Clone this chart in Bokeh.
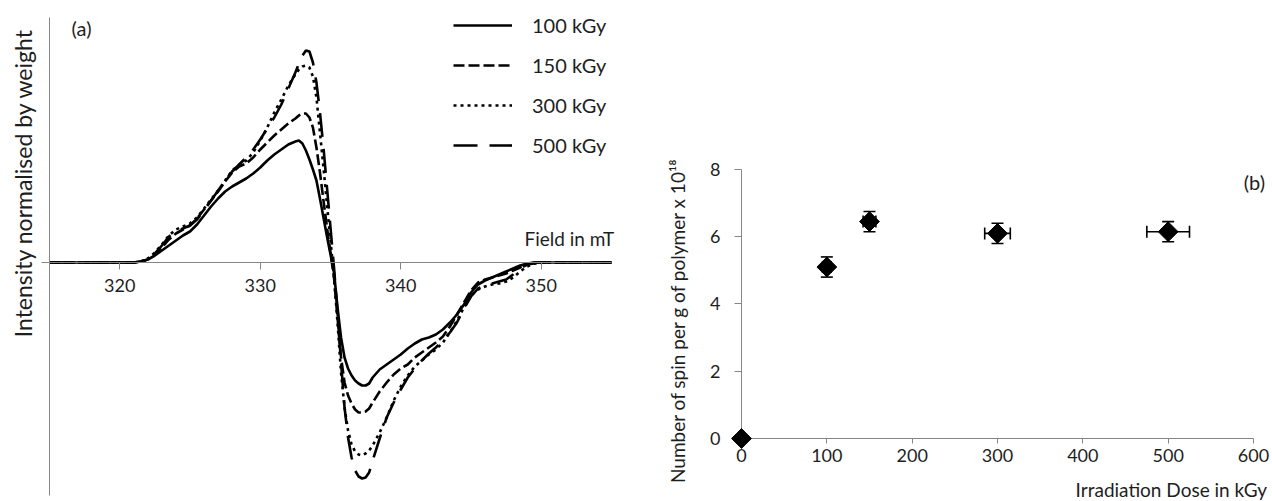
import numpy as np
from bokeh.plotting import figure
from bokeh.models import (Range1d, Label, Legend, LegendItem, FixedTicker, LinearAxis,
                          ColumnDataSource, Whisker, TeeHead)
from bokeh.embed import file_html
from bokeh.resources import INLINE

# ---------------- data: panel (a) EPR spectra ----------------
field = [315, 316, 317, 318, 319, 320, 321,
         321.5, 322, 322.5, 323, 323.5, 324, 324.5, 325, 325.5, 326, 326.5, 327, 327.5,
         328, 328.5, 329, 329.5, 330, 330.5, 331, 331.5, 332, 332.5,
         332.75, 333, 333.25, 333.5, 333.75, 334, 334.25, 334.5, 334.75, 335, 335.25,
         335.5, 335.75, 336, 336.25, 336.5, 336.75, 337, 337.25, 337.5, 337.75, 338,
         338.5, 339, 339.5, 340, 340.5, 341, 341.5, 342, 342.5, 343, 343.5, 344, 344.5,
         345, 345.5, 346, 346.5, 347, 347.5, 348, 348.5, 349, 349.5, 350,
         351, 352, 353, 354, 355]

i100 = [0, 0, 0, 0, 0, 0, 0,
        0.01, 0.03, 0.07, 0.12, 0.17, 0.22, 0.27, 0.31, 0.38, 0.47, 0.56, 0.64, 0.71,
        0.76, 0.80, 0.84, 0.89, 0.95, 1.02, 1.08, 1.13, 1.18, 1.21,
        1.22, 1.19, 1.12, 1.03, 0.93, 0.82, 0.64, 0.45, 0.26, 0.08, -0.10,
        -0.45, -0.75, -0.95, -1.06, -1.13, -1.18, -1.21, -1.23, -1.23, -1.21, -1.15,
        -1.07, -1.02, -0.97, -0.92, -0.86, -0.81, -0.77, -0.75, -0.72, -0.67, -0.60, -0.52, -0.42,
        -0.30, -0.22, -0.18, -0.15, -0.12, -0.09, -0.06, -0.03, -0.01, 0, 0,
        0, 0, 0, 0, 0]

i150 = [0, 0, 0, 0, 0, 0, 0,
        0.01, 0.03, 0.08, 0.15, 0.23, 0.29, 0.33, 0.37, 0.44, 0.53, 0.62, 0.71, 0.81,
        0.90, 0.96, 0.99, 1.05, 1.13, 1.20, 1.27, 1.33, 1.39, 1.44,
        1.47, 1.49, 1.49, 1.45, 1.35, 1.15, 0.90, 0.62, 0.35, 0.10, -0.15,
        -0.55, -0.95, -1.20, -1.33, -1.41, -1.47, -1.50, -1.50, -1.49, -1.46, -1.40,
        -1.29, -1.20, -1.12, -1.06, -1.02, -0.95, -0.90, -0.85, -0.80, -0.74, -0.64, -0.52, -0.40,
        -0.28, -0.20, -0.17, -0.15, -0.13, -0.11, -0.08, -0.05, -0.02, -0.01, 0,
        0, 0, 0, 0, 0]

i300 = [0, 0, 0, 0, 0, 0, 0,
        0.01, 0.04, 0.10, 0.18, 0.27, 0.33, 0.36, 0.39, 0.45, 0.54, 0.63, 0.72, 0.82,
        0.92, 0.98, 1.02, 1.10, 1.22, 1.35, 1.50, 1.63, 1.77, 1.88,
        1.93, 1.96, 1.97, 1.95, 1.86, 1.65, 1.30, 0.95, 0.58, 0.22, -0.15,
        -0.60, -1.10, -1.45, -1.68, -1.82, -1.89, -1.92, -1.93, -1.91, -1.88, -1.83,
        -1.70, -1.55, -1.38, -1.24, -1.13, -1.04, -0.98, -0.92, -0.87, -0.80, -0.70, -0.58, -0.45,
        -0.33, -0.27, -0.24, -0.22, -0.21, -0.19, -0.15, -0.09, -0.04, -0.01, 0,
        0, 0, 0, 0, 0]

i500 = [0, 0, 0, 0, 0, 0, 0,
        0.01, 0.03, 0.09, 0.17, 0.26, 0.31, 0.34, 0.37, 0.43, 0.52, 0.62, 0.72, 0.82,
        0.91, 0.98, 1.05, 1.13, 1.23, 1.34, 1.45, 1.58, 1.74, 1.90,
        1.99, 2.07, 2.12, 2.11, 2.00, 1.80, 1.50, 1.15, 0.75, 0.35, -0.05,
        -0.50, -1.00, -1.45, -1.75, -1.95, -2.08, -2.14, -2.16, -2.15, -2.10, -1.98,
        -1.76, -1.55, -1.40, -1.27, -1.15, -1.06, -0.98, -0.91, -0.85, -0.78, -0.70, -0.60, -0.46,
        -0.34, -0.26, -0.23, -0.21, -0.19, -0.17, -0.12, -0.06, -0.02, 0, 0,
        0, 0, 0, 0, 0]

series_labels = ["100 kGy", "150 kGy", "300 kGy", "500 kGy"]
field_ticks = [320, 330, 340, 350]

# ---------------- data: panel (b) spin count ----------------
dose = [0, 100, 150, 300, 500]
spins = [0, 5.1, 6.45, 6.1, 6.15]
dose_err = [0, 5, 7.5, 15, 25]
spin_err = [0, 0.3, 0.3, 0.3, 0.3]
dose_ticks = [0, 100, 200, 300, 400, 500, 600]
spin_ticks = [0, 2, 4, 6, 8]

FONT = "Lato"
TXT = "#1e1e1e"
AXC = "#868686"


def style_axis(ax, ticks, tick_out, standoff, size="18px", labels=True):
    ax.ticker = FixedTicker(ticks=ticks)
    ax.minor_tick_line_color = None
    ax.major_tick_out = tick_out
    ax.major_tick_in = 0
    ax.major_label_standoff = standoff
    ax.axis_line_color = AXC
    ax.axis_line_width = 1
    ax.major_tick_line_color = AXC
    ax.major_label_text_font = FONT
    ax.major_label_text_font_size = size
    ax.major_label_text_color = TXT
    if not labels:
        ax.major_label_overrides = {t: "" for t in ticks}


# one canvas, two coordinate systems: main ranges = panel (a), "b" ranges = panel (b)
p = figure(width=1270, height=500, output_backend="svg", toolbar_location=None,
           x_range=Range1d(311.5125, 401.904), y_range=Range1d(-2.38, 2.62),
           x_axis_location=None, y_axis_location=None,
           min_border_left=0, min_border_right=0, min_border_top=0, min_border_bottom=0)
p.extra_x_ranges = {"b": Range1d(-868.36, 619.92)}
p.extra_y_ranges = {"b": Range1d(-1.8439, 13.026)}
p.outline_line_color = None
p.grid.visible = False
p.background_fill_color = "white"
p.border_fill_color = "white"

# ---- panel (a) axes ----
ax_a = LinearAxis(fixed_location=0, bounds=(315, 355))
style_axis(ax_a, field_ticks, 7, 9)
p.add_layout(ax_a, "below")
ay_a = LinearAxis(fixed_location=315, bounds=(-2.33, 2.45))
style_axis(ay_a, [0], 8, 0, labels=False)
p.add_layout(ay_a, "left")

# ---- panel (a) spectra ----
src_a = ColumnDataSource(dict(f=field, a=i100, b=i150, c=i300, d=i500))
r1 = p.line("f", "a", source=src_a, line_color="black", line_width=2.6)
r2 = p.line("f", "b", source=src_a, line_color="black", line_width=2.6, line_dash="11 4")
r3 = p.line("f", "c", source=src_a, line_color="black", line_width=2.6, line_dash="3 4")
r4 = p.line("f", "d", source=src_a, line_color="black", line_width=2.6, line_dash="24 12")

leg = Legend(items=[LegendItem(label=series_labels[0], renderers=[r1]),
                    LegendItem(label=series_labels[1], renderers=[r2]),
                    LegendItem(label=series_labels[2], renderers=[r3]),
                    LegendItem(label=series_labels[3], renderers=[r4])],
             location=(453, 343), glyph_width=59, glyph_height=24, label_height=24,
             spacing=16, padding=0, margin=0, label_standoff=20,
             border_line_color=None, background_fill_alpha=0,
             label_text_font=FONT, label_text_font_size="20px", label_text_color=TXT)
p.add_layout(leg)

p.add_layout(Label(x=317.28, y=2.35, text="(a)", text_align="center", text_baseline="middle",
                   text_font=FONT, text_font_size="20px", text_color=TXT))
p.add_layout(Label(x=355.2, y=0.24, text="Field in mT", text_align="right", text_baseline="middle",
                   text_font=FONT, text_font_size="19px", text_color=TXT))
p.add_layout(Label(x=313.08, y=2.34, text="Intensity normalised by weight",
                   angle=np.pi / 2, text_align="right", text_baseline="middle",
                   text_font=FONT, text_font_size="23px", text_color=TXT))

# ---- panel (b) axes ----
ax_b = LinearAxis(x_range_name="b", y_range_name="b", fixed_location=0, bounds=(0, 600))
style_axis(ax_b, dose_ticks, 5, 6)
p.add_layout(ax_b, "below")
ay_b = LinearAxis(x_range_name="b", y_range_name="b", fixed_location=0, bounds=(0, 8))
style_axis(ay_b, spin_ticks, 7, 14)
p.add_layout(ay_b, "left")

# ---- panel (b) points with error bars ----
lo_x = [d - e for d, e in zip(dose, dose_err)]
hi_x = [d + e for d, e in zip(dose, dose_err)]
lo_y = [s - e for s, e in zip(spins, spin_err)]
hi_y = [s + e for s, e in zip(spins, spin_err)]
src_all = ColumnDataSource(dict(x=dose, y=spins))
src_err = ColumnDataSource(dict(x=dose[1:], y=spins[1:], xl=lo_x[1:], xh=hi_x[1:],
                                yl=lo_y[1:], yh=hi_y[1:]))

p.add_layout(Whisker(source=src_err, base="x", lower="yl", upper="yh", dimension="height",
                     x_range_name="b", y_range_name="b",
                     line_color="black", line_width=1.6,
                     lower_head=TeeHead(size=12, line_color="black", line_width=1.6),
                     upper_head=TeeHead(size=12, line_color="black", line_width=1.6)))
p.add_layout(Whisker(source=src_err, base="y", lower="xl", upper="xh", dimension="width",
                     x_range_name="b", y_range_name="b",
                     line_color="black", line_width=1.6,
                     lower_head=TeeHead(size=12, line_color="black", line_width=1.6),
                     upper_head=TeeHead(size=12, line_color="black", line_width=1.6)))
p.scatter("x", "y", source=src_all, marker="square", angle=np.pi / 4, size=14,
          fill_color="black", line_color="black", x_range_name="b", y_range_name="b",
          level="overlay")

p.add_layout(Label(x=-75, y=8.357, x_range_name="b", y_range_name="b",
                   text="Number of spin per g of polymer x 10¹⁸",
                   angle=np.pi / 2, text_align="right", text_baseline="middle",
                   text_font=FONT, text_font_size="19px", text_color=TXT))
p.add_layout(Label(x=616, y=-1.52, x_range_name="b", y_range_name="b",
                   text="Irradiation Dose in kGy", text_align="right", text_baseline="middle",
                   text_font=FONT, text_font_size="19px", text_color=TXT))
p.add_layout(Label(x=601, y=7.64, x_range_name="b", y_range_name="b", text="(b)",
                   text_align="center", text_baseline="middle",
                   text_font=FONT, text_font_size="20px", text_color=TXT))

open("out.html", "w").write(file_html(p, INLINE))
